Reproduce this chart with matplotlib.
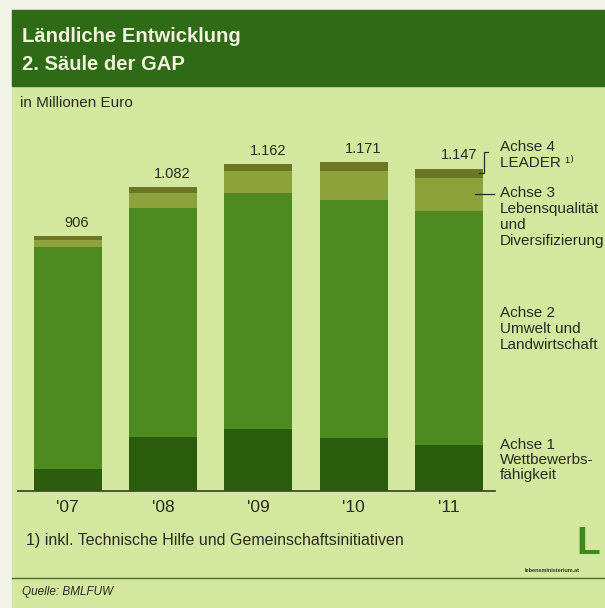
import numpy as np
import matplotlib
matplotlib.use("Agg")
import matplotlib.pyplot as plt
from matplotlib.patches import Rectangle
from matplotlib.lines import Line2D

plt.rcParams['font.family'] = ['Liberation Sans', 'DejaVu Sans']

# data (Mio. Euro)
years = ["'07", "'08", "'09", "'10", "'11"]
achse1 = [78, 192, 220, 189, 164]
achse2 = [789, 816, 839, 847, 834]
achse3 = [25, 53, 78, 103, 117]
achse4 = [14, 21, 25, 32, 32]
totals = ["906", "1.082", "1.162", "1.171", "1.147"]

series = [achse1, achse2, achse3, achse4]
colors = ["#2b5c0e", "#4d8a1f", "#8ea23c", "#6c7726"]

bg = "#d4e79e"
header = "#2f6a16"
text_c = "#2b2b22"

W, H = 605, 608
fig = plt.figure(figsize=(W / 100, H / 100), dpi=100)
fig.patch.set_facecolor("#f1f3e6")

def px(x, y):
    return x / W, 1 - y / H

# panel + header band
fig.patches.append(Rectangle(px(12, 608), (W - 12) / W, (608 - 10) / H,
                             transform=fig.transFigure, color=bg, zorder=0))
fig.patches.append(Rectangle(px(12, 86), (W - 12) / W, 76 / H,
                             transform=fig.transFigure, color=header, zorder=1))

fig.text(*px(22, 36), "Ländliche Entwicklung", color="#f2f2dc", fontsize=14.6,
         fontweight="bold", va="center", ha="left")
fig.text(*px(22, 64), "2. Säule der GAP", color="#f2f2dc", fontsize=14.6,
         fontweight="bold", va="center", ha="left")
fig.text(*px(20, 103), "in Millionen Euro", color=text_c, fontsize=11,
         va="center", ha="left")

# bar axes
ax_l, ax_r, ax_b, ax_t = 18, 495, 491, 140
ax = fig.add_axes([ax_l / W, 1 - ax_b / H, (ax_r - ax_l) / W, (ax_b - ax_t) / H])
ax.set_zorder(5)
ax.set_facecolor("none")
x = np.arange(len(years))
bottom = np.zeros(len(years))
for vals, c in zip(series, colors):
    ax.bar(x, vals, width=0.713, bottom=bottom, color=c, linewidth=0, zorder=2)
    bottom += np.array(vals)

ax.set_xlim(-0.519, 4.481)
ax.set_ylim(0, 1249)
for s in ["top", "left", "right"]:
    ax.spines[s].set_visible(False)
ax.spines["bottom"].set_color("#3f4a2a")
ax.spines["bottom"].set_linewidth(1.3)
ax.set_xticks([])
ax.set_yticks([])

for i, (t, tot) in enumerate(zip(totals, bottom)):
    ax.text(i + 0.1, tot + 22, t, ha="center", va="bottom", fontsize=10.5,
            color=text_c)
for i, yl in enumerate(years):
    ax.text(i, -57, yl, ha="center", va="center", fontsize=12.5, color=text_c,
            clip_on=False)

# bracket for Achse 4 and tick for Achse 3 on the last bar
last = len(years) - 1
a4_mid = bottom[last] - achse4[last] / 2
a3_mid = achse1[last] + achse2[last] + achse3[last] / 2
bx0, bx1, bx2 = last + 0.313, last + 0.366, last + 0.41
ax.plot([bx0, bx1, bx1, bx2], [a4_mid, a4_mid, 1206, 1206], color=text_c,
        lw=0.9, clip_on=False, zorder=3)
ax.plot([last + 0.27, last + 0.47], [a3_mid, a3_mid], color=text_c, lw=0.9,
        clip_on=False, zorder=3)

def label(y0, lines, dy=16):
    for k, s in enumerate(lines):
        fig.text(*px(500, y0 + k * dy), s, fontsize=11, color=text_c,
                 va="center", ha="left")

label(147, ["Achse 4", "LEADER ¹⁾"])
label(193, ["Achse 3", "Lebensqualität", "und", "Diversifizierung"])
label(313, ["Achse 2", "Umwelt und", "Landwirtschaft"])
label(445, ["Achse 1", "Wettbewerbs-", "fähigkeit"], dy=15)

fig.text(*px(26, 540), "1) inkl. Technische Hilfe und Gemeinschaftsinitiativen",
         fontsize=11.5, color=text_c, va="center", ha="left")
fig.add_artist(Line2D([12 / W, 1], [1 - 578 / H, 1 - 578 / H],
                      transform=fig.transFigure, color="#4f6a2c", lw=1))
fig.text(*px(22, 592), "Quelle: BMLFUW", fontsize=8.5, style="italic",
         color=text_c, va="center", ha="left")

# logo
fig.text(*px(588, 544), "L", fontsize=28, fontweight="bold", color="#3d8a1c",
         va="center", ha="center")
fig.text(*px(552, 570), "lebensministerium.at", fontsize=4, fontweight="bold",
         color="#2e3a22", va="center", ha="center")

fig.savefig("out.png", dpi=100, facecolor=fig.get_facecolor())
